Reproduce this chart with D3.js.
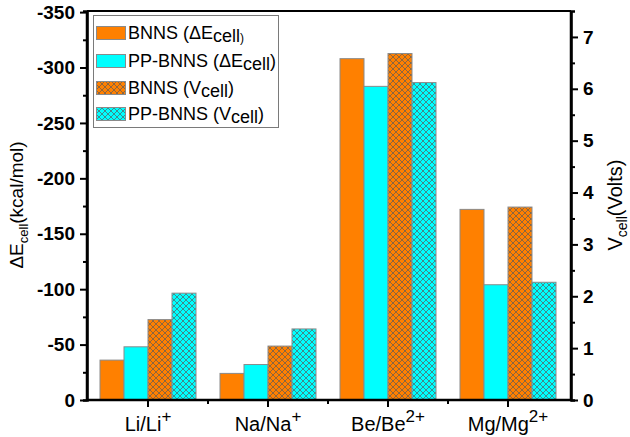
<!DOCTYPE html>
<html><head><meta charset="utf-8">
<script src="https://cdn.jsdelivr.net/npm/d3@7"></script>
<style>body{margin:0;background:#fff}svg{display:block;font-family:"Liberation Sans",Arial,sans-serif}</style>
</head><body><svg id="c" width="630" height="437"></svg>
<script>
const categories = ["Li/Li", "Na/Na", "Be/Be", "Mg/Mg"];
const categorySup = ["+", "+", "2+", "2+"];
const bnnsE = [-36, -24, -308, -172];
const ppbnnsE = [-48, -32, -283, -104];
const bnnsV = [1.55, 1.04, 6.68, 3.72];
const ppbnnsV = [2.06, 1.37, 6.12, 2.27];
const leftTicks = [0, -50, -100, -150, -200, -250, -300, -350];
const rightTicks = [0, 1, 2, 3, 4, 5, 6, 7];

const svg = d3.select("#c");
const L = 87, R = 571, T = 11, B = 400;
const orange = "#FF8000", cyan = "#00FFFF";

const defs = svg.append("defs");
function hatch(id, fill) {
  const p = defs.append("pattern").attr("id", id).attr("patternUnits", "userSpaceOnUse")
    .attr("width", 6).attr("height", 6);
  p.append("rect").attr("width", 6).attr("height", 6).attr("fill", fill);
  p.append("path").attr("d", "M0,0L6,6M6,0L0,6M-1,5L1,7M5,-1L7,1M5,7L7,5M-1,1L1,-1")
    .attr("stroke", "#5a5a5a").attr("stroke-width", 0.7).attr("fill", "none");
}
hatch("hO", orange); hatch("hC", cyan);

const series = [
  {key: "bnnsE", vals: bnnsE, fill: orange, axis: "L"},
  {key: "ppbnnsE", vals: ppbnnsE, fill: cyan, axis: "L"},
  {key: "bnnsV", vals: bnnsV, fill: "url(#hO)", axis: "R"},
  {key: "ppbnnsV", vals: ppbnnsV, fill: "url(#hC)", axis: "R"}
];

const x0 = d3.scaleBand().domain(categories).range([L + 1, R - 3]).paddingInner(0.2).paddingOuter(0.1);
const x1 = d3.scaleBand().domain(series.map(s => s.key)).range([0, x0.bandwidth()]);
const yL = d3.scaleLinear().domain([0, -351]).range([B, T]);
const yR = d3.scaleLinear().domain([0, 7.5]).range([B, T]);

// bars
series.forEach(s => {
  const y = s.axis === "L" ? yL : yR;
  svg.append("g").selectAll("rect").data(s.vals).join("rect")
    .attr("x", (d, i) => x0(categories[i]) + x1(s.key))
    .attr("width", x1.bandwidth())
    .attr("y", d => y(d))
    .attr("height", d => B - y(d))
    .attr("fill", s.fill)
    .attr("stroke", "#8a8a8a").attr("stroke-width", 1);
});

// frame
svg.append("line").attr("x1", L).attr("x2", R).attr("y1", T).attr("y2", T).attr("stroke", "#000").attr("stroke-width", 2);

const fmt = d => String(d);
// left axis
const gL = svg.append("g").attr("transform", `translate(${L},0)`)
  .call(d3.axisLeft(yL).tickValues(leftTicks).tickSize(7).tickPadding(5).tickFormat(fmt));
gL.append("g").call(d3.axisLeft(yL).tickValues(d3.range(-25, -351, -50)).tickSize(4).tickFormat(""));
// right axis
const gR = svg.append("g").attr("transform", `translate(${R},0)`)
  .call(d3.axisRight(yR).tickValues(rightTicks).tickSize(7).tickPadding(5).tickFormat(fmt));
gR.append("g").call(d3.axisRight(yR).tickValues(d3.range(0.5, 7.5, 1)).tickSize(4).tickFormat(""));
// bottom axis
const gB = svg.append("g").attr("transform", `translate(0,${B})`)
  .call(d3.axisBottom(x0).tickSize(7).tickFormat(""));
const minorX = categories.slice(1).map(c => x0(c) - (x0.step() - x0.bandwidth()) / 2);
gB.append("g").selectAll("line").data(minorX).join("line")
  .attr("x1", d => d).attr("x2", d => d).attr("y1", 0).attr("y2", 4).attr("stroke", "#000").attr("stroke-width", 2);

[gL, gR, gB].forEach(g => {
  g.selectAll(".domain").attr("stroke-width", 2.5).attr("stroke", "#000");
  g.selectAll("line").attr("stroke-width", 2);
  g.selectAll("text").attr("font-size", 19).attr("font-weight", "bold").attr("fill", "#000")
    .attr("font-family", '"Liberation Sans",Arial,sans-serif');
});
gB.select(".domain").attr("d", `M${L},0H${R}`);
gL.select(".domain").attr("d", `M0,${B}V${T}`);
gR.select(".domain").attr("d", `M0,${B}V${T}`);

// x labels
categories.forEach((c, i) => {
  const t = svg.append("text").attr("x", x0(c) + x0.bandwidth() / 2).attr("y", 431)
    .attr("text-anchor", "middle").attr("font-size", 20).attr("fill", "#000");
  t.append("tspan").text(c);
  t.append("tspan").attr("dy", -9).attr("font-size", 17).text(categorySup[i]);
});

// axis titles
const tl = svg.append("text").attr("transform", "translate(23,205) rotate(-90)")
  .attr("text-anchor", "middle").attr("font-size", 19).attr("fill", "#000");
tl.append("tspan").text("ΔE");
tl.append("tspan").attr("dy", 5).attr("font-size", 13).text("cell");
tl.append("tspan").attr("dy", -5).text("(kcal/mol)");
const tr = svg.append("text").attr("transform", "translate(622,205) rotate(-90)")
  .attr("text-anchor", "middle").attr("font-size", 20).attr("fill", "#000");
tr.append("tspan").text("V");
tr.append("tspan").attr("dy", 5).attr("font-size", 14).text("cell");
tr.append("tspan").attr("dy", -5).text("(Volts)");

// legend
const legendLabels = [
  ["BNNS (ΔE", "cell", ")"],
  ["PP-BNNS (ΔE", "cell", ")"],
  ["BNNS (V", "cell", ")"],
  ["PP-BNNS (V", "cell", ")"]
];
const lg = svg.append("g");
lg.append("rect").attr("x", 93.5).attr("y", 15.5).attr("width", 185).attr("height", 112)
  .attr("fill", "#fff").attr("stroke", "#7a7a7a").attr("stroke-width", 1);
const rowY = [33, 61, 88, 114];
series.forEach((s, i) => {
  lg.append("rect").attr("x", 96.5).attr("y", rowY[i] - 6.5).attr("width", 29).attr("height", 13)
    .attr("fill", s.fill).attr("stroke", "#8a8a8a");
  const t = lg.append("text").attr("x", 128).attr("y", rowY[i] + 6).attr("font-size", 18).attr("fill", "#000");
  t.append("tspan").text(legendLabels[i][0]);
  t.append("tspan").attr("dy", 3).text(legendLabels[i][1]);
  if (i === 0) t.append("tspan").attr("font-size", 12).text(legendLabels[i][2]);
  else t.append("tspan").attr("dy", -3).text(legendLabels[i][2]);
});
</script></body></html>
